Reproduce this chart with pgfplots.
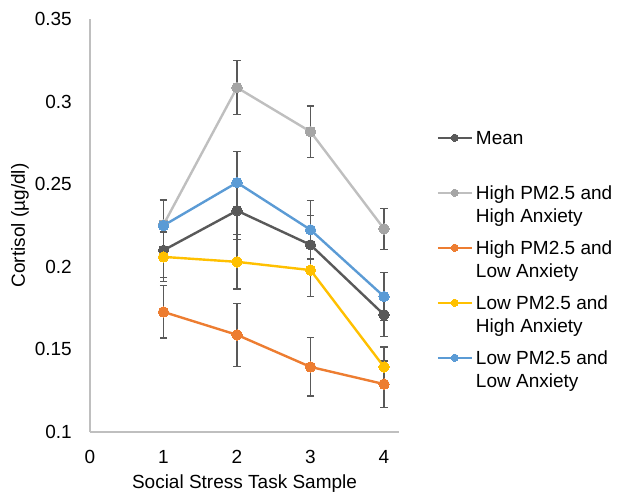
\documentclass[border=0pt]{standalone}
\usepackage{fontspec}
\setmainfont{Liberation Sans}
\usepackage{pgfplots}
\pgfplotsset{compat=1.18}
\definecolor{meangray}{HTML}{595959}
\definecolor{hhline}{HTML}{BFBFBF}
\definecolor{hhmark}{HTML}{A5A5A5}
\definecolor{xlorange}{HTML}{ED7D31}
\definecolor{xlyellow}{HTML}{FFC000}
\definecolor{xlblue}{HTML}{5B9BD5}
\definecolor{axisgray}{HTML}{BFBFBF}
\newcommand{\two}[2]{\begin{tabular}[t]{@{}l@{}}#1\\#2\end{tabular}}

\pgfplotstableread{
x y e
1 0.2100 0.0164
2 0.2340 0.0176
3 0.2133 0.0176
4 0.1710 0.0133
}\meandata
\pgfplotstableread{
x y e
1 0.2255 0.0150
2 0.3085 0.0164
3 0.2818 0.0155
4 0.2230 0.0124
}\hhdata
\pgfplotstableread{
x y e
1 0.1727 0.0158
2 0.1588 0.0191
3 0.1394 0.0176
4 0.1290 0.0140
}\hldata
\pgfplotstableread{
x y e
1 0.2060 0.0150
2 0.2030 0.0164
3 0.1980 0.0158
4 0.1394 0.0120
}\lhdata
\pgfplotstableread{
x y e
1 0.2250 0.0158
2 0.2510 0.0188
3 0.2224 0.0176
4 0.1820 0.0145
}\lldata

\pgfplotsset{
  xlseries/.style n args={2}{
    color=#1, line width=2.4pt, mark=*, mark size=5.2pt,
    mark options={solid, line width=0pt, fill=#2, draw=#2},
    error bars/.cd, y dir=both, y explicit,
    error bar style={color=meangray, line width=1.3pt},
    error mark options={color=meangray, line width=1.3pt, mark size=3.6pt, rotate=90},
  },
}

\begin{document}
\begin{tikzpicture}
\useasboundingbox (-90pt,-64pt) rectangle (531pt,432pt);
\begin{axis}[
  scale only axis, width=309pt, height=413pt,
  font=\fontsize{19}{23}\selectfont,
  xmin=0, xmax=4.204, ymin=0.1, ymax=0.35,
  axis x line*=bottom, axis y line*=left,
  axis line style={draw=axisgray, line width=1.4pt},
  major tick length=0pt,
  xtick={0,1,2,3,4}, xticklabels={0,1,2,3,4},
  ytick={0.1,0.15,0.2,0.25,0.3,0.35},
  yticklabels={0.1,0.15,0.2,0.25,0.3,0.35},
  xticklabel style={anchor=base, inner sep=0pt, yshift=-31pt},
  yticklabel style={anchor=east, inner sep=0pt, xshift=-18pt},
  xlabel={Social Stress Task Sample},
  ylabel={Cortisol (µg/dl)},
  xlabel style={at={(axis description cs:0.5,-0.138)}, anchor=base, inner sep=0pt},
  ylabel style={at={(axis description cs:-0.2104,0.5)}, anchor=base, inner sep=0pt},
  clip=false,
  legend style={draw=none, fill=none, inner sep=0pt,
    at={(1.121,0.735)}, anchor=north west,
    nodes={anchor=base west, inner sep=0pt, text depth=},
    row sep=9pt, column sep=3pt,
    font=\fontsize{19}{23}\selectfont},
  legend image code/.code={
    \draw[mark repeat=2, mark phase=2, #1, mark size=3.6pt]
      plot coordinates {(0pt,7pt) (17pt,7pt) (34pt,7pt)};
  },
]
\addplot[xlseries={meangray}{meangray}] table[x=x, y=y, y error=e] {\meandata};
\addlegendentry{\two{Mean}{~}}
\addplot[xlseries={hhline}{hhmark}] table[x=x, y=y, y error=e] {\hhdata};
\addlegendentry{\two{High PM2.5 and}{High Anxiety}}
\addplot[xlseries={xlorange}{xlorange}] table[x=x, y=y, y error=e] {\hldata};
\addlegendentry{\two{High PM2.5 and}{Low Anxiety}}
\addplot[xlseries={xlyellow}{xlyellow}] table[x=x, y=y, y error=e] {\lhdata};
\addlegendentry{\two{Low PM2.5 and}{High Anxiety}}
\addplot[xlseries={xlblue}{xlblue}] table[x=x, y=y, y error=e] {\lldata};
\addlegendentry{\two{Low PM2.5 and}{Low Anxiety}}
\end{axis}
\end{tikzpicture}
\end{document}
